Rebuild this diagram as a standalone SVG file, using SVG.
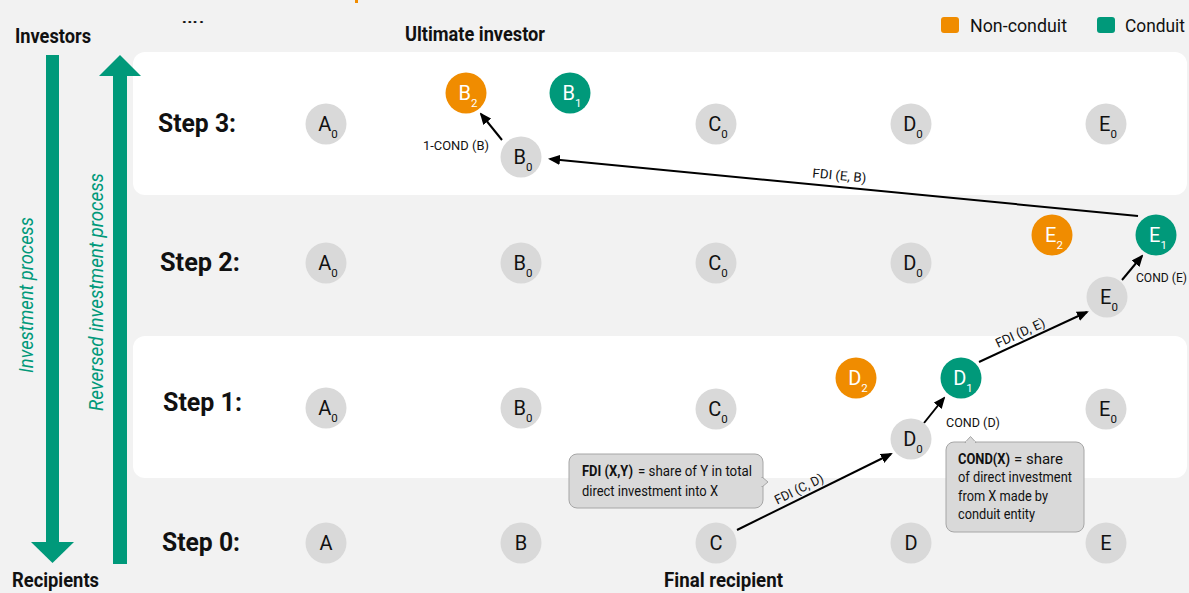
<svg xmlns="http://www.w3.org/2000/svg" width="1189" height="593" viewBox="0 0 1189 593">
<style>
text{font-family:Roboto,"Liberation Sans",sans-serif;fill:#111}
.h{font-weight:bold;font-size:20px}
.step{font-weight:bold;font-size:26px}
.leg{font-size:19px}
.vt{font-size:20px;font-style:italic;fill:#00997a}
.nd{fill:#d9d9d9}
.or{fill:#f08c00}
.gr{fill:#00997a}
.nl{font-size:20px;text-anchor:middle}
.nl tspan{font-size:11.5px}
.w{fill:#fff}
.lab{font-size:13px}
.ct{font-size:14.5px}
.b{font-weight:bold}
.box{fill:#d9d9d9;stroke:#a6a6a6;stroke-width:1}
.con{stroke:#000;stroke-width:2;fill:none;marker-end:url(#ah)}
</style>
<defs>
<marker id="ah" markerUnits="userSpaceOnUse" markerWidth="12" markerHeight="10" refX="10" refY="5" orient="auto">
<path d="M0,0 L12,5 L0,10 z" fill="#000"/>
</marker>
</defs>
<rect x="0" y="0" width="1189" height="593" fill="#f2f2f2"/>
<rect x="355" y="0" width="3" height="3" fill="#f08c00"/>
<g id="bands">
<rect x="133" y="52" width="1054" height="143" rx="12" fill="#fff"/>
<rect x="133" y="336" width="1054" height="142" rx="12" fill="#fff"/>
</g>
<g id="side-arrows">
<rect x="46" y="55" width="13" height="488" fill="#00997a"/>
<polygon points="31,542 74,542 52.5,563" fill="#00997a"/>
<rect x="113" y="75" width="14" height="489" fill="#00997a"/>
<polygon points="99,76 141,76 120,55" fill="#00997a"/>
<text class="vt" x="33" y="295" text-anchor="middle" transform="rotate(-90 33 295)" textLength="156" lengthAdjust="spacingAndGlyphs">Investment process</text>
<text class="vt" x="103" y="292" text-anchor="middle" transform="rotate(-90 103 292)" textLength="238" lengthAdjust="spacingAndGlyphs">Reversed investment process</text>
</g>
<g id="titles">
<text class="h" x="15" y="43" textLength="76" lengthAdjust="spacingAndGlyphs">Investors</text>
<text class="h" x="12" y="587" textLength="87" lengthAdjust="spacingAndGlyphs">Recipients</text>
<text class="h" x="405" y="41" textLength="140" lengthAdjust="spacingAndGlyphs">Ultimate investor</text>
<text class="h" x="664" y="587" textLength="119" lengthAdjust="spacingAndGlyphs">Final recipient</text>
<text x="181" y="23" style="font-size:18px" textLength="24" lengthAdjust="spacingAndGlyphs">….</text>
</g>
<g id="legend">
<rect x="941" y="17" width="18" height="16" rx="3" fill="#f08c00"/>
<text class="leg" x="970" y="32" textLength="97" lengthAdjust="spacingAndGlyphs">Non-conduit</text>
<rect x="1097" y="17" width="18" height="16" rx="3" fill="#00997a"/>
<text class="leg" x="1125" y="32" textLength="60" lengthAdjust="spacingAndGlyphs">Conduit</text>
</g>
<g id="steps">
<text class="step" x="158" y="132" textLength="78" lengthAdjust="spacingAndGlyphs">Step 3:</text>
<text class="step" x="160" y="271" textLength="80" lengthAdjust="spacingAndGlyphs">Step 2:</text>
<text class="step" x="163" y="411" textLength="79" lengthAdjust="spacingAndGlyphs">Step 1:</text>
<text class="step" x="162" y="551" textLength="78" lengthAdjust="spacingAndGlyphs">Step 0:</text>
</g>
<g id="connectors">
<line class="con" x1="1138" y1="216" x2="550" y2="159"/>
<line class="con" x1="502" y1="140" x2="481" y2="114"/>
<line class="con" x1="737" y1="530" x2="891" y2="454"/>
<line class="con" x1="924" y1="423" x2="944" y2="398"/>
<line class="con" x1="979" y1="362" x2="1087" y2="312"/>
<line class="con" x1="1122" y1="280" x2="1142" y2="256"/>
<text class="lab" x="839" y="180" text-anchor="middle" transform="rotate(5.5 839 180)" textLength="54" lengthAdjust="spacingAndGlyphs">FDI (E, B)</text>
<text class="lab" x="801" y="493" text-anchor="middle" transform="rotate(-26.2 801 493)" textLength="53" lengthAdjust="spacingAndGlyphs">FDI (C, D)</text>
<text class="lab" x="1022" y="337" text-anchor="middle" transform="rotate(-24.6 1022 337)" textLength="53" lengthAdjust="spacingAndGlyphs">FDI (D, E)</text>
<text class="lab" x="423" y="150" textLength="66" lengthAdjust="spacingAndGlyphs">1-COND (B)</text>
<text class="lab" x="1136" y="282" textLength="51" lengthAdjust="spacingAndGlyphs">COND (E)</text>
<text class="lab" x="946" y="427" textLength="54" lengthAdjust="spacingAndGlyphs">COND (D)</text>
</g>
<g id="node-A3"><circle class="nd" cx="326" cy="124" r="20.5"/><text class="nl" x="328" y="131">A<tspan dy="7">0</tspan></text></g>
<g id="node-B0-3"><circle class="nd" cx="521" cy="157" r="20.5"/><text class="nl" x="523" y="164">B<tspan dy="7">0</tspan></text></g>
<g id="node-B2"><circle class="or" cx="466" cy="93" r="20.5"/><text class="nl w" x="468" y="100">B<tspan dy="7">2</tspan></text></g>
<g id="node-B1"><circle class="gr" cx="570" cy="93" r="20.5"/><text class="nl w" x="572" y="100">B<tspan dy="7">1</tspan></text></g>
<g id="node-C3"><circle class="nd" cx="716" cy="124" r="20.5"/><text class="nl" x="718" y="131">C<tspan dy="7">0</tspan></text></g>
<g id="node-D3"><circle class="nd" cx="911" cy="124" r="20.5"/><text class="nl" x="913" y="131">D<tspan dy="7">0</tspan></text></g>
<g id="node-E3"><circle class="nd" cx="1106" cy="124" r="20.5"/><text class="nl" x="1108" y="131">E<tspan dy="7">0</tspan></text></g>
<g id="node-A2"><circle class="nd" cx="326" cy="263" r="20.5"/><text class="nl" x="328" y="270">A<tspan dy="7">0</tspan></text></g>
<g id="node-B2row"><circle class="nd" cx="521" cy="263" r="20.5"/><text class="nl" x="523" y="270">B<tspan dy="7">0</tspan></text></g>
<g id="node-C2"><circle class="nd" cx="716" cy="263" r="20.5"/><text class="nl" x="718" y="270">C<tspan dy="7">0</tspan></text></g>
<g id="node-D2row"><circle class="nd" cx="911" cy="263" r="20.5"/><text class="nl" x="913" y="270">D<tspan dy="7">0</tspan></text></g>
<g id="node-E2"><circle class="or" cx="1052" cy="235" r="20.5"/><text class="nl w" x="1054" y="242">E<tspan dy="7">2</tspan></text></g>
<g id="node-E1"><circle class="gr" cx="1156" cy="235" r="20.5"/><text class="nl w" x="1158" y="242">E<tspan dy="7">1</tspan></text></g>
<g id="node-E0-2"><circle class="nd" cx="1107" cy="297" r="20.5"/><text class="nl" x="1109" y="304">E<tspan dy="7">0</tspan></text></g>
<g id="node-A1"><circle class="nd" cx="326" cy="408" r="20.5"/><text class="nl" x="328" y="415">A<tspan dy="7">0</tspan></text></g>
<g id="node-B1row"><circle class="nd" cx="521" cy="408" r="20.5"/><text class="nl" x="523" y="415">B<tspan dy="7">0</tspan></text></g>
<g id="node-C1"><circle class="nd" cx="716" cy="409" r="20.5"/><text class="nl" x="718" y="416">C<tspan dy="7">0</tspan></text></g>
<g id="node-D2"><circle class="or" cx="856" cy="378" r="20.5"/><text class="nl w" x="858" y="385">D<tspan dy="7">2</tspan></text></g>
<g id="node-D1"><circle class="gr" cx="961" cy="378" r="20.5"/><text class="nl w" x="963" y="385">D<tspan dy="7">1</tspan></text></g>
<g id="node-D0-1"><circle class="nd" cx="911" cy="439" r="20.5"/><text class="nl" x="913" y="446">D<tspan dy="7">0</tspan></text></g>
<g id="node-E1row"><circle class="nd" cx="1106" cy="409" r="20.5"/><text class="nl" x="1108" y="416">E<tspan dy="7">0</tspan></text></g>
<g id="node-A0"><circle class="nd" cx="326" cy="543" r="20.5"/><text class="nl" x="326" y="550">A</text></g>
<g id="node-B0"><circle class="nd" cx="521" cy="543" r="20.5"/><text class="nl" x="521" y="550">B</text></g>
<g id="node-C0"><circle class="nd" cx="716" cy="543" r="20.5"/><text class="nl" x="716" y="550">C</text></g>
<g id="node-D0"><circle class="nd" cx="911" cy="543" r="20.5"/><text class="nl" x="911" y="550">D</text></g>
<g id="node-E0"><circle class="nd" cx="1106" cy="543" r="20.5"/><text class="nl" x="1106" y="550">E</text></g>
<g id="callout-fdi">
<rect class="box" x="569" y="454" width="194" height="54" rx="8"/>
<polygon points="762,477 768,482 762,487" fill="#d9d9d9" stroke="#a6a6a6"/>
<rect x="760" y="478" width="3" height="8" fill="#d9d9d9"/>
<text class="ct b" x="582" y="476" textLength="51" lengthAdjust="spacingAndGlyphs">FDI (X,Y)</text>
<text class="ct" x="638" y="476" textLength="114" lengthAdjust="spacingAndGlyphs">= share of Y in total</text>
<text class="ct" x="582" y="496" textLength="136" lengthAdjust="spacingAndGlyphs">direct investment into X</text>
</g>
<g id="callout-cond">
<rect class="box" x="946" y="442" width="138" height="90" rx="8"/>
<polygon points="965,442.5 970.5,436.5 976,442.5" fill="#d9d9d9" stroke="#a6a6a6"/>
<rect x="966" y="441" width="9" height="3" fill="#d9d9d9"/>
<text class="ct b" x="958" y="464" textLength="52" lengthAdjust="spacingAndGlyphs">COND(X)</text>
<text class="ct" x="1014" y="464" textLength="49" lengthAdjust="spacingAndGlyphs">=  share</text>
<text class="ct" x="958" y="482" textLength="114" lengthAdjust="spacingAndGlyphs">of direct investment</text>
<text class="ct" x="958" y="501" textLength="90" lengthAdjust="spacingAndGlyphs">from X made by</text>
<text class="ct" x="958" y="519" textLength="77" lengthAdjust="spacingAndGlyphs">conduit entity</text>
</g>
</svg>
